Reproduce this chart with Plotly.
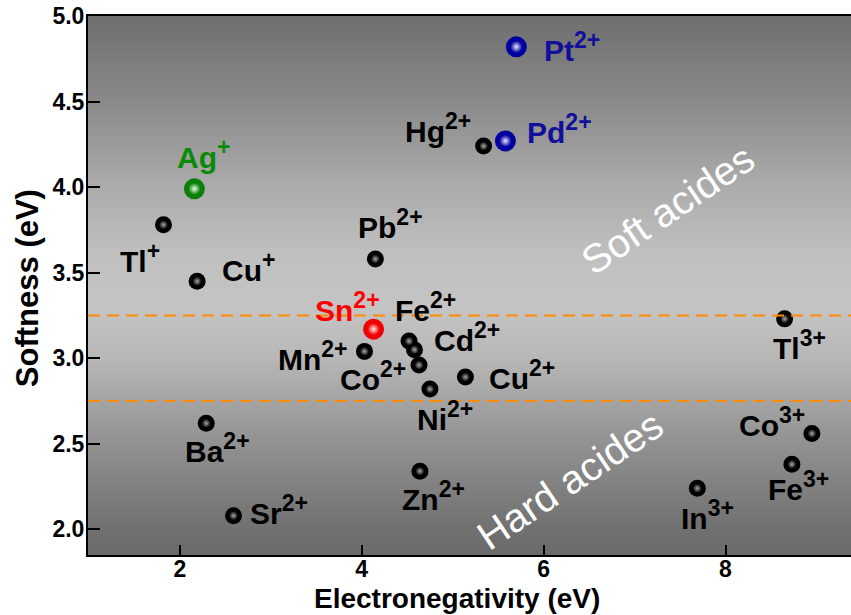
import plotly.graph_objects as go
import numpy as np

# ---------------- data ----------------
ions = ["Pt", "Pd", "Hg", "Pb", "Ag", "Tl", "Cu", "Ba", "Sr", "Sn", "Fe",
        "Cd", "Mn", "Co", "Ni", "Cu", "Zn", "Tl", "Co", "Fe", "In"]
charges = ["2+", "2+", "2+", "2+", "+", "+", "+", "2+", "2+", "2+", "2+",
           "2+", "2+", "2+", "2+", "2+", "2+", "3+", "3+", "3+", "3+"]
electronegativity = [5.70, 5.58, 5.34, 4.15, 2.16, 1.82, 2.19, 2.29, 2.59, 4.13, 4.52,
                     4.58, 4.03, 4.63, 4.75, 5.14, 4.64, 8.65, 8.95, 8.73, 7.69]
softness = [4.82, 4.27, 4.24, 3.58, 3.99, 3.78, 3.45, 2.62, 2.08, 3.17, 3.10,
            3.05, 3.04, 2.96, 2.82, 2.89, 2.34, 3.23, 2.56, 2.38, 2.24]
groups = ["blue", "blue", "black", "black", "green", "black", "black", "black", "black", "red", "black",
          "black", "black", "black", "black", "black", "black", "black", "black", "black", "black"]
boundaries = [3.25, 2.75]
region_labels = ["Soft acides", "Hard acides"]
region_pos_x = [7.37, 6.29]
region_pos_y = [3.87, 2.29]

x_ticks = [2, 4, 6, 8]
y_ticks = [2.0, 2.5, 3.0, 3.5, 4.0, 4.5, 5.0]
x_title = "Electronegativity (eV)"
y_title = "Softness (eV)"

# ---------------- styles ----------------
FONT = "Arial, Liberation Sans, sans-serif"
label_colors = {"black": "#000000", "blue": "#10109a", "green": "#0a8a0a", "red": "#ff0000"}
sphere_outer = {"black": "#000000", "blue": "#0000a0", "green": "#0a800a", "red": "#f00000"}
sphere_center = {"black": "#a8a8a8", "blue": "#e8e8ff", "green": "#e8ffe8", "red": "#ffe8e8"}
sphere_size = {"black": 17, "blue": 21, "green": 21, "red": 21}
highlight_size = {"black": 9, "blue": 12, "green": 12, "red": 12}
# label placement: (xanchor, xshift px, yshift px)
label_place = [("left", 26, 0), ("left", 20, 12), ("right", -11, 18), ("center", 15, 35),
               ("center", 9, 35), ("center", -23, -33), ("left", 23, 14), ("center", 11, -25),
               ("left", 14, 6), ("center", -26, 22), ("left", -16, 34), ("left", 18, 13),
               ("right", -14, -5), ("right", -11, -11), ("center", 15, -27), ("left", 22, 2),
               ("center", 14, -25), ("center", 15, -26), ("right", -5, 12), ("center", 7, -22),
               ("center", 10, -27)]


def ion_text(ion, ch):
    return f"{ion}<sup><span style='font-size:23px'>{ch}</span></sup>"


fig = go.Figure()

# background gradient (vertical grey shading)
bg_y = np.linspace(1.8, 5.05, 120)
bg_x = [0.9, 9.5]
gray_stops_v = [1.8, 2.0, 2.5, 3.0, 3.3, 3.6, 4.0, 4.5, 5.05]
gray_stops_g = [104, 112, 145, 183, 196, 192, 172, 138, 108]
gray = np.interp(bg_y, gray_stops_v, gray_stops_g)
fig.add_trace(go.Heatmap(x=bg_x, y=bg_y, z=[[g, g] for g in gray], zmin=0, zmax=255,
                         colorscale=[[0, "black"], [1, "white"]], showscale=False,
                         zsmooth="best", hoverinfo="skip"))

# dashed boundary lines
for b in boundaries:
    fig.add_shape(type="line", xref="paper", x0=0, x1=1, yref="y", y0=b, y1=b,
                  line=dict(color="#ff8c00", width=2, dash="12px,7px"), layer="above")

# spheres
for grp in ["black", "green", "blue", "red"]:
    xs = [x for x, g in zip(electronegativity, groups) if g == grp]
    ys = [y for y, g in zip(softness, groups) if g == grp]
    fig.add_trace(go.Scatter(x=xs, y=ys, mode="markers", hoverinfo="skip",
                             marker=dict(size=sphere_size[grp], color=sphere_outer[grp],
                                         line=dict(width=0))))
    fig.add_trace(go.Scatter(x=xs, y=ys, mode="markers", hoverinfo="skip",
                             marker=dict(size=highlight_size[grp], color=sphere_outer[grp],
                                         line=dict(width=0),
                                         gradient=dict(type="radial", color=sphere_center[grp]))))

# ion labels
for ion, ch, x, y, grp, (xa, dx, dy) in zip(ions, charges, electronegativity, softness, groups, label_place):
    fig.add_annotation(x=x, y=y, text=ion_text(ion, ch), showarrow=False,
                       xanchor=xa, yanchor="middle", xshift=dx, yshift=dy,
                       font=dict(family=FONT, size=30, color=label_colors[grp], weight="bold"))

# region labels
for t, rx, ry in zip(region_labels, region_pos_x, region_pos_y):
    fig.add_annotation(x=rx, y=ry, text=t, showarrow=False, textangle=-34,
                       font=dict(family=FONT, size=40, color="white"))

# axis titles
fig.add_annotation(xref="paper", yref="paper", x=0.4836, y=-0.081, text=x_title, showarrow=False,
                   xanchor="center", yanchor="middle",
                   font=dict(family=FONT, size=28, weight="bold"))
fig.add_annotation(xref="paper", yref="paper", x=-0.080, y=0.495, text=y_title, showarrow=False,
                   xanchor="center", yanchor="middle", textangle=-90,
                   font=dict(family=FONT, size=31, weight="bold"))

fig.update_layout(
    width=851, height=615,
    margin=dict(l=88, r=0, t=16, b=60),
    paper_bgcolor="white", plot_bgcolor="rgba(0,0,0,0)",
    showlegend=False,
    font=dict(family=FONT, color="black"),
)
fig.update_xaxes(range=[0.99, 9.38], tickvals=x_ticks, ticks="inside", ticklen=10, tickwidth=2,
                 tickcolor="black", showline=True, linewidth=2, linecolor="black", mirror=True,
                 showgrid=False, zeroline=False, automargin=False, ticklabelstandoff=-8,
                 tickfont=dict(family=FONT, size=23, weight="bold"))
fig.update_yaxes(range=[1.85, 5.0], tickvals=y_ticks, tickformat=".1f", ticks="inside", ticklen=12,
                 tickwidth=2, tickcolor="black", showline=True, linewidth=2, linecolor="black",
                 showgrid=False, zeroline=False, automargin=False, ticklabelstandoff=-3,
                 tickfont=dict(family=FONT, size=23, weight="bold"))

fig.write_html("out.html", config={"displayModeBar": False},
               post_script="document.body.style.margin='0';")
